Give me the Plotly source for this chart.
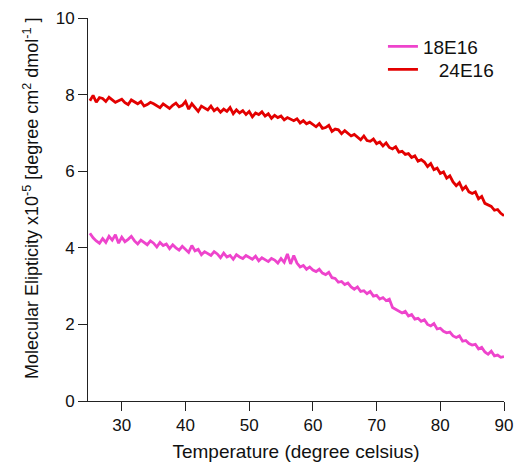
import plotly.graph_objects as go

temperature = [25.0, 25.5, 26.0, 26.5, 27.0, 27.5, 28.0, 28.5, 29.0, 29.5,
               30.0, 30.5, 31.0, 31.5, 32.0, 32.5, 33.0, 33.5, 34.0, 34.5,
               35.0, 35.5, 36.0, 36.5, 37.0, 37.5, 38.0, 38.5, 39.0, 39.5,
               40.0, 40.5, 41.0, 41.5, 42.0, 42.5, 43.0, 43.5, 44.0, 44.5,
               45.0, 45.5, 46.0, 46.5, 47.0, 47.5, 48.0, 48.5, 49.0, 49.5,
               50.0, 50.5, 51.0, 51.5, 52.0, 52.5, 53.0, 53.5, 54.0, 54.5,
               55.0, 55.5, 56.0, 56.5, 57.0, 57.5, 58.0, 58.5, 59.0, 59.5,
               60.0, 60.5, 61.0, 61.5, 62.0, 62.5, 63.0, 63.5, 64.0, 64.5,
               65.0, 65.5, 66.0, 66.5, 67.0, 67.5, 68.0, 68.5, 69.0, 69.5,
               70.0, 70.5, 71.0, 71.5, 72.0, 72.5, 73.0, 73.5, 74.0, 74.5,
               75.0, 75.5, 76.0, 76.5, 77.0, 77.5, 78.0, 78.5, 79.0, 79.5,
               80.0, 80.5, 81.0, 81.5, 82.0, 82.5, 83.0, 83.5, 84.0, 84.5,
               85.0, 85.5, 86.0, 86.5, 87.0, 87.5, 88.0, 88.5, 89.0, 89.5,
               90.0]

ellipticity_18E16 = [4.38, 4.26, 4.18, 4.12, 4.24, 4.14, 4.30, 4.20, 4.34, 4.12,
                     4.28, 4.16, 4.22, 4.30, 4.18, 4.10, 4.20, 4.14, 4.08, 4.18,
                     4.12, 4.02, 4.14, 4.06, 4.10, 3.98, 4.08, 4.00, 3.94, 4.04,
                     3.96, 3.88, 4.06, 3.92, 3.96, 3.82, 3.90, 3.86, 3.80, 3.90,
                     3.84, 3.74, 3.86, 3.76, 3.80, 3.70, 3.82, 3.76, 3.72, 3.80,
                     3.76, 3.70, 3.78, 3.66, 3.74, 3.70, 3.64, 3.72, 3.68, 3.60,
                     3.72, 3.62, 3.84, 3.58, 3.80, 3.60, 3.50, 3.54, 3.44, 3.50,
                     3.42, 3.38, 3.44, 3.34, 3.30, 3.36, 3.22, 3.20, 3.10, 3.12,
                     3.04, 3.08, 2.98, 2.92, 2.98, 2.86, 2.88, 2.80, 2.86, 2.74,
                     2.76, 2.66, 2.70, 2.62, 2.66, 2.44, 2.40, 2.36, 2.30, 2.34,
                     2.22, 2.26, 2.14, 2.16, 2.08, 2.12, 2.00, 1.96, 2.02, 1.88,
                     1.90, 1.82, 1.78, 1.80, 1.70, 1.66, 1.70, 1.56, 1.58, 1.50,
                     1.46, 1.48, 1.36, 1.40, 1.28, 1.22, 1.30, 1.18, 1.20, 1.14,
                     1.16]

ellipticity_24E16 = [7.84, 7.98, 7.80, 7.92, 7.90, 7.82, 7.93, 7.86, 7.80, 7.84,
                     7.88, 7.79, 7.74, 7.86, 7.80, 7.76, 7.82, 7.70, 7.74, 7.80,
                     7.76, 7.72, 7.66, 7.76, 7.70, 7.64, 7.72, 7.78, 7.68, 7.72,
                     7.82, 7.62, 7.76, 7.66, 7.56, 7.70, 7.66, 7.60, 7.70, 7.58,
                     7.64, 7.54, 7.62, 7.56, 7.66, 7.50, 7.60, 7.52, 7.58, 7.48,
                     7.56, 7.42, 7.52, 7.48, 7.55, 7.44, 7.50, 7.38, 7.46, 7.40,
                     7.44, 7.34, 7.40, 7.36, 7.32, 7.37, 7.26, 7.32, 7.24, 7.28,
                     7.22, 7.16, 7.24, 7.12, 7.14, 7.20, 7.04, 7.10, 7.08, 6.98,
                     7.06, 7.00, 6.92, 6.96, 6.90, 6.82, 6.92, 6.80, 6.78, 6.84,
                     6.72, 6.76, 6.66, 6.74, 6.62, 6.58, 6.64, 6.50, 6.52, 6.44,
                     6.46, 6.36, 6.40, 6.26, 6.30, 6.24, 6.12, 6.20, 6.04, 6.08,
                     5.94, 5.98, 5.82, 5.88, 5.72, 5.62, 5.70, 5.52, 5.60, 5.46,
                     5.42, 5.46, 5.28, 5.34, 5.16, 5.12, 5.08, 4.98, 5.00, 4.90,
                     4.84]

series_names = ["18E16", "\u00a0\u00a0\u00a024E16"]
series_colors = ["#EE44CC", "#E30000"]
legend_ids = ["legend", "legend2"]

fig = go.Figure()
for name, vals, col, lg in zip(series_names, [ellipticity_18E16, ellipticity_24E16],
                               series_colors, legend_ids):
    fig.add_trace(go.Scatter(x=temperature, y=vals, mode="lines", name=name,
                             legend=lg, line=dict(color=col, width=2.8)))

FAM = "Liberation Sans"
INK = "#111111"
legend_style = dict(xanchor="left", yanchor="top", bgcolor="rgba(0,0,0,0)",
                    font=dict(family=FAM, size=19, color=INK), itemwidth=30)
fig.update_layout(
    width=515, height=467,
    margin=dict(l=88, r=11, t=18, b=66),
    paper_bgcolor="white", plot_bgcolor="white",
    font=dict(family=FAM, size=17, color=INK),
    showlegend=True,
    legend=dict(x=0.709, y=0.975, **legend_style),
    legend2=dict(x=0.709, y=0.915, **legend_style),
    xaxis=dict(range=[24.7, 90], showgrid=False, zeroline=False, automargin=False,
               showline=True, linecolor="#222", linewidth=1,
               ticks="outside", ticklen=9, tickcolor="#222",
               tickvals=[30, 40, 50, 60, 70, 80, 90],
               tickfont=dict(family=FAM, size=17, color=INK),
               title=dict(text="Temperature (degree celsius)", standoff=10,
                          font=dict(family=FAM, size=19, color=INK))),
    yaxis=dict(range=[0, 10], showgrid=False, zeroline=False, automargin=False,
               showline=True, linecolor="#222", linewidth=1,
               ticks="outside", ticklen=9, tickcolor="#222",
               tickvals=[0, 2, 4, 6, 8, 10],
               tickfont=dict(family=FAM, size=17, color=INK)),
    annotations=[dict(
        text="Molecular Elipticity x10<sup>-5</sup> [degree cm<sup>2</sup> dmol<sup>-1</sup>\u00a0]",
        xref="paper", yref="paper", x=-0.136, y=0.531,
        xanchor="center", yanchor="middle", textangle=-90,
        showarrow=False, font=dict(family=FAM, size=18, color=INK))],
)

fig.write_html("out.html", config={"displayModeBar": False},
               post_script="document.body.style.margin='0px';")
